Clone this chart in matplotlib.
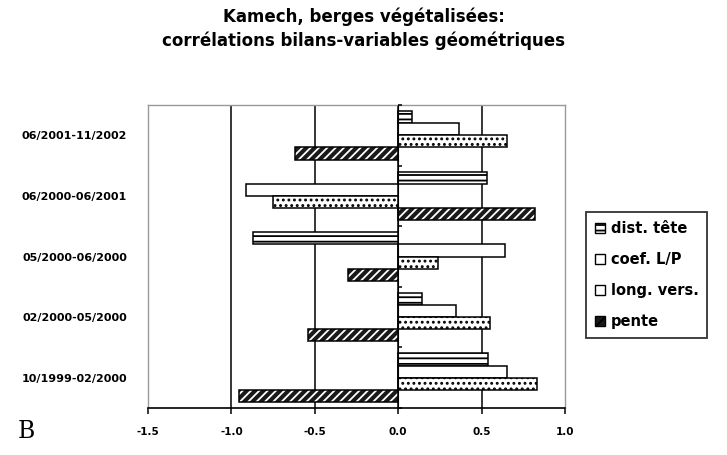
import matplotlib; matplotlib.use('Agg')
import matplotlib.pyplot as plt
import matplotlib.patches as mpatches
import numpy as np

# ---- data --------------------------------------------------------------
PERIODS = ['10/1999-02/2000', '02/2000-05/2000', '05/2000-06/2000',
           '06/2000-06/2001', '06/2001-11/2002']
DIST_TETE = [0.54, 0.14, -0.87, 0.53, 0.08]
COEF_LP   = [0.65, 0.345, 0.64, -0.91, 0.365]
LONG_VERS = [0.83, 0.55, 0.24, -0.75, 0.65]
PENTE     = [-0.955, -0.54, -0.30, 0.82, -0.62]
XTICKS    = [-1.5, -1.0, -0.5, 0.0, 0.5, 1.0]
XLABELS   = ['-1.5', '-1.0', '-0.5', '0.0', '0.5', '1.0']

plt.rcParams['hatch.linewidth'] = 1.3
TK = dict(fontsize=7.5, fontweight='bold', color='black')

fig = plt.figure(figsize=(7.27, 4.55), dpi=100)
fig.patch.set_facecolor('white')
ax = fig.add_axes([148/727, 47/455, 417/727, 303/455])

y = np.arange(len(PERIODS))
w = 0.2
EK = dict(edgecolor='black', linewidth=1.1, height=w, zorder=3)

ax.barh(y + 1.5*w, DIST_TETE, color='white', hatch='---', **EK)
ax.barh(y + 0.5*w, COEF_LP, color='white', **EK)
ax.barh(y - 0.5*w, LONG_VERS, color='white', hatch='...', **EK)
# pente: dark fill with white slashes, then black outline on top
ax.barh(y - 1.5*w, PENTE, height=w, color='#1a1a1a', edgecolor='white',
        hatch='////', linewidth=0, zorder=3)
ax.barh(y - 1.5*w, PENTE, height=w, fill=False, edgecolor='black',
        linewidth=1.1, zorder=4)

ax.set_xlim(-1.5, 1.0)
ax.set_ylim(-0.5, len(PERIODS) - 0.5)
ax.set_xticks(XTICKS)
ax.set_xticklabels(XLABELS, **TK)
ax.set_yticks(y)
ax.set_yticklabels(PERIODS, fontsize=8, fontweight='bold')
ax.tick_params(axis='y', length=0, pad=15)
ax.tick_params(axis='x', direction='out', length=4, width=1.1, pad=10)

ax.grid(axis='x', color='black', lw=1.1, zorder=1)
gl = ax.get_xgridlines()
gl[0].set_visible(False); gl[-1].set_visible(False)

for sp in ['top', 'left', 'right']:
    ax.spines[sp].set_color('#999999'); ax.spines[sp].set_linewidth(1.0)
ax.spines['bottom'].set_color('black'); ax.spines['bottom'].set_linewidth(1.2)

# category axis drawn at x = 0
sec = ax.secondary_yaxis(1.5/2.5)
sec.set_yticks(np.arange(-0.5, len(PERIODS), 1.0))
sec.set_yticklabels([])
sec.tick_params(direction='out', length=3, width=1.1)
sec.spines['left'].set_linewidth(1.2)
sec.set_zorder(5)

# legend
handles = [
    mpatches.Patch(facecolor='white', edgecolor='black', hatch='---', label='dist. tête'),
    mpatches.Patch(facecolor='white', edgecolor='black', label='coef. L/P'),
    mpatches.Patch(facecolor='white', edgecolor='black', label='long. vers.'),
    mpatches.Patch(facecolor='#1a1a1a', edgecolor='black', hatch='///', label='pente'),
]
leg = fig.legend(handles=handles, loc='upper left',
                 bbox_to_anchor=(586/727, 1 - 212/455),
                 prop=dict(size=10.5, weight='bold'), frameon=True, fancybox=False,
                 handlelength=0.7, handleheight=0.7, handletextpad=0.4,
                 labelspacing=1.1, borderpad=0.6, borderaxespad=0)
leg.get_frame().set_edgecolor('black')
leg.get_frame().set_linewidth(1.3)

fig.text(0.5, 1 - 17/455, 'Kamech, berges végétalisées:',
         ha='center', va='center', fontsize=12, fontweight='bold')
fig.text(0.5, 1 - 41/455, 'corrélations bilans-variables géométriques',
         ha='center', va='center', fontsize=12, fontweight='bold')
fig.text(18/727, 1 - 432/455, 'B', ha='left', va='center',
         fontsize=17, family='DejaVu Serif')

fig.savefig('out.png', dpi=100, facecolor='white')
